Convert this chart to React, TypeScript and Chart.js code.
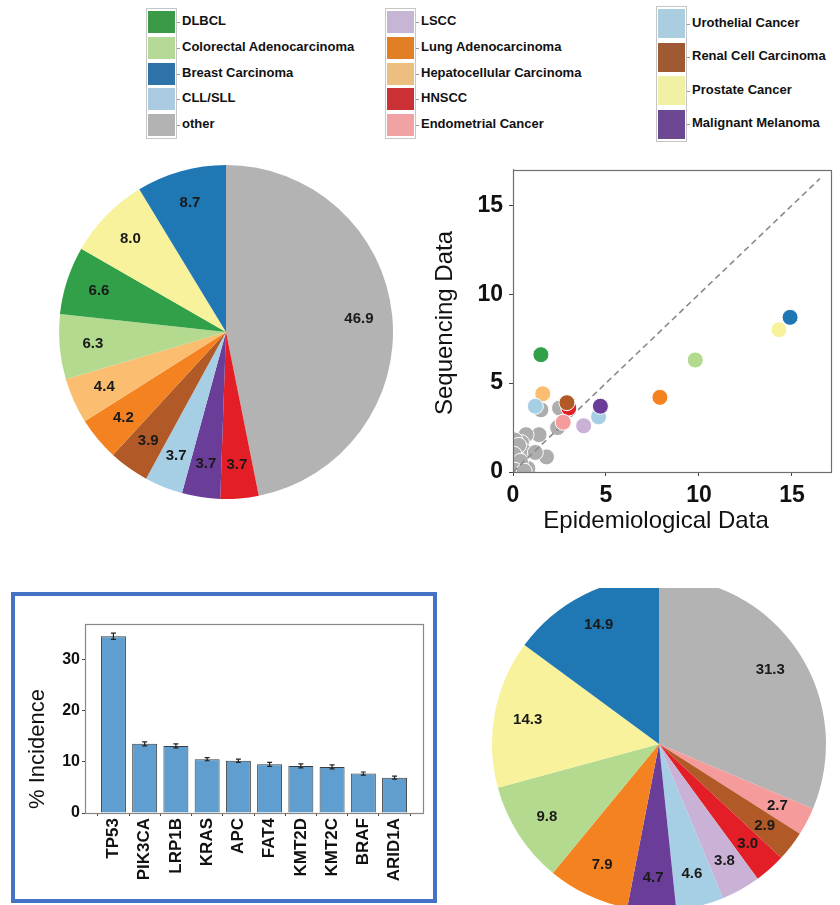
import React, { useEffect, useRef } from 'react';
import { Chart, registerables } from 'chart.js';
Chart.register(...registerables);

const FONT = '"Liberation Sans", Arial, Helvetica, sans-serif';

// ---------- colours per cancer type ----------
const typeColors: Record<string, string> = {
  'DLBCL': '#31a048',
  'Colorectal Adenocarcinoma': '#b3da8f',
  'Breast Carcinoma': '#1f77b4',
  'CLL/SLL': '#a6cfe5',
  'other': '#b3b3b3',
  'LSCC': '#c9b2d6',
  'Lung Adenocarcinoma': '#f58220',
  'Hepatocellular Carcinoma': '#fbbe70',
  'HNSCC': '#e31e26',
  'Endometrial Cancer': '#f59b9b',
  'Urothelial Cancer': '#a6cfe5',
  'Renal Cell Carcinoma': '#b15a28',
  'Prostate Cancer': '#f7f29b',
  'Malignant Melanoma': '#6a3d99',
};
const legendColors: Record<string, string> = {
  'DLBCL': '#3b9a48',
  'Colorectal Adenocarcinoma': '#b5d996',
  'Breast Carcinoma': '#2d73a7',
  'CLL/SLL': '#abcbe0',
  'other': '#b3b3b3',
  'LSCC': '#c7b5d5',
  'Lung Adenocarcinoma': '#e07f24',
  'Hepatocellular Carcinoma': '#ecbe80',
  'HNSCC': '#cb3035',
  'Endometrial Cancer': '#f0a3a2',
  'Urothelial Cancer': '#aacde0',
  'Renal Cell Carcinoma': '#a05a33',
  'Prostate Cancer': '#f2f0a4',
  'Malignant Melanoma': '#6c4893',
};

// ---------- legend ----------
const legendCol1 = ['DLBCL', 'Colorectal Adenocarcinoma', 'Breast Carcinoma', 'CLL/SLL', 'other'];
const legendCol2 = ['LSCC', 'Lung Adenocarcinoma', 'Hepatocellular Carcinoma', 'HNSCC', 'Endometrial Cancer'];
const legendCol3 = ['Urothelial Cancer', 'Renal Cell Carcinoma', 'Prostate Cancer', 'Malignant Melanoma'];

// ---------- pie 1 (sequencing data) ----------
const pie1Labels = ['other', 'HNSCC', 'Malignant Melanoma', 'CLL/SLL', 'Renal Cell Carcinoma', 'Lung Adenocarcinoma',
  'Hepatocellular Carcinoma', 'Colorectal Adenocarcinoma', 'DLBCL', 'Prostate Cancer', 'Breast Carcinoma'];
const pie1Values = [46.9, 3.7, 3.7, 3.7, 3.9, 4.2, 4.4, 6.3, 6.6, 8.0, 8.7];

// ---------- pie 2 (epidemiological data) ----------
const pie2Labels = ['other', 'Endometrial Cancer', 'Renal Cell Carcinoma', 'HNSCC', 'LSCC', 'Urothelial Cancer',
  'Malignant Melanoma', 'Lung Adenocarcinoma', 'Colorectal Adenocarcinoma', 'Prostate Cancer', 'Breast Carcinoma'];
const pie2Values = [31.3, 2.7, 2.9, 3.0, 3.8, 4.6, 4.7, 7.9, 9.8, 14.3, 14.9];

// ---------- scatter ----------
const scatterOtherEpi = [1.5, 2.5, 2.5, 2.4, 1.4, 0.7, 0.46, 0.28, 0.55, 1.8, 1.2, 0.2, 0.8, 0.2, 0.1, 0.3, 0.05, 0.4, 0.1, 0.6];
const scatterOtherSeq = [3.5, 3.6, 2.6, 2.5, 2.1, 2.1, 1.65, 1.37, 1.2, 0.85, 1.1, 0.83, 0.2, 0.3, 1.8, 1.5, 1.0, 0.6, 0.1, 0.05];
const scatterTypes = ['DLBCL', 'Hepatocellular Carcinoma', 'CLL/SLL', 'HNSCC', 'Renal Cell Carcinoma', 'Endometrial Cancer',
  'LSCC', 'Urothelial Cancer', 'Malignant Melanoma', 'Lung Adenocarcinoma', 'Colorectal Adenocarcinoma', 'Prostate Cancer', 'Breast Carcinoma'];
const scatterEpi = [1.5, 1.6, 1.2, 3.0, 2.9, 2.7, 3.8, 4.6, 4.7, 7.9, 9.8, 14.3, 14.9];
const scatterSeq = [6.6, 4.4, 3.7, 3.6, 3.9, 2.8, 2.6, 3.1, 3.7, 4.2, 6.3, 8.0, 8.7];
const identityLine = [0, 16.5];
const scatterTicks = [0, 5, 10, 15];

// ---------- bar chart ----------
const genes = ['TP53', 'PIK3CA', 'LRP1B', 'KRAS', 'APC', 'FAT4', 'KMT2D', 'KMT2C', 'BRAF', 'ARID1A'];
const incidence = [34.5, 13.5, 13.1, 10.5, 10.2, 9.5, 9.2, 9.0, 7.7, 6.9];
const incidenceErr = [0.6, 0.4, 0.4, 0.3, 0.3, 0.4, 0.4, 0.4, 0.3, 0.3];
const incidenceTicks = [0, 10, 20, 30];

// ---------- plugins ----------
const pieLabelPlugin = {
  id: 'pieLabels',
  afterDatasetsDraw(chart: any) {
    const { ctx } = chart;
    const meta = chart.getDatasetMeta(0);
    const data = chart.data.datasets[0].data;
    ctx.save();
    ctx.font = `bold 15px ${FONT}`;
    ctx.fillStyle = '#1a1a1a';
    ctx.textAlign = 'center';
    ctx.textBaseline = 'middle';
    meta.data.forEach((arc: any, i: number) => {
      const p = arc.getProps(['x', 'y', 'startAngle', 'endAngle', 'outerRadius'], true);
      const a = (p.startAngle + p.endAngle) / 2;
      const r = p.outerRadius * 0.8;
      ctx.fillText(Number(data[i]).toFixed(1), p.x + Math.cos(a) * r, p.y + Math.sin(a) * r);
    });
    ctx.restore();
  },
};

const boxPlugin = {
  id: 'axBox',
  afterDraw(chart: any, _args: any, opts: any) {
    const { ctx, chartArea: ca } = chart;
    ctx.save();
    ctx.strokeStyle = opts.color || '#777';
    ctx.lineWidth = opts.width || 1;
    ctx.strokeRect(Math.round(ca.left) + 0.5, Math.round(ca.top) + 0.5, Math.round(ca.right - ca.left), Math.round(ca.bottom - ca.top));
    ctx.restore();
  },
};

const freeTitlesPlugin = {
  id: 'freeTitles',
  afterDraw(chart: any, _args: any, opts: any) {
    const { ctx } = chart;
    (opts.items || []).forEach((it: any) => {
      ctx.save();
      ctx.translate(it.x, it.y);
      if (it.rot) ctx.rotate(it.rot);
      ctx.font = it.font;
      ctx.fillStyle = '#111';
      ctx.textAlign = 'center';
      ctx.textBaseline = 'middle';
      ctx.fillText(it.text, 0, 0);
      ctx.restore();
    });
  },
};

const errorBarPlugin = {
  id: 'errBars',
  afterDatasetsDraw(chart: any) {
    const { ctx } = chart;
    const meta = chart.getDatasetMeta(0);
    const ys = chart.scales.y;
    ctx.save();
    ctx.strokeStyle = '#222';
    ctx.lineWidth = 1.2;
    meta.data.forEach((bar: any, i: number) => {
      const v = incidence[i];
      const e = incidenceErr[i];
      const t = ys.getPixelForValue(v + e);
      const b = ys.getPixelForValue(v - e);
      ctx.beginPath();
      ctx.moveTo(bar.x, t); ctx.lineTo(bar.x, b);
      ctx.moveTo(bar.x - 2.5, t); ctx.lineTo(bar.x + 2.5, t);
      ctx.moveTo(bar.x - 2.5, b); ctx.lineTo(bar.x + 2.5, b);
      ctx.stroke();
    });
    ctx.restore();
  },
};

// ---------- generic canvas ----------
function ChartCanvas({ make, w, h, left, top }: any) {
  const ref = useRef<HTMLCanvasElement | null>(null);
  useEffect(() => {
    const chart = new Chart(ref.current as HTMLCanvasElement, make());
    return () => chart.destroy();
  }, []);
  return (
    <canvas ref={ref} width={w} height={h}
      style={{ position: 'absolute', left, top, width: w, height: h }} />
  );
}

function makePie(labels: string[], values: number[]) {
  return () => ({
    type: 'pie',
    data: {
      labels,
      datasets: [{
        data: values,
        backgroundColor: labels.map((l) => typeColors[l]),
        borderWidth: 0,
      }],
    },
    options: {
      responsive: false,
      animation: false,
      layout: { padding: 3 },
      plugins: { legend: { display: false }, tooltip: { enabled: false } },
    },
    plugins: [pieLabelPlugin],
  } as any);
}

const fixedTicks = (vals: number[]) => (scale: any) => {
  scale.ticks = vals.map((value) => ({ value }));
};

function makeScatter() {
  return () => ({
    type: 'scatter',
    data: {
      datasets: [
        {
          data: scatterOtherEpi.map((x, i) => ({ x, y: scatterOtherSeq[i] })),
          backgroundColor: '#adadad',
          borderColor: '#ffffff',
          borderWidth: 1,
          pointRadius: 8,
          order: 3,
          clip: 0,
        },
        {
          type: 'line',
          data: identityLine.map((v) => ({ x: v, y: v })),
          borderColor: '#8a8a8a',
          borderWidth: 1.6,
          borderDash: [6, 4],
          pointRadius: 0,
          fill: false,
          order: 2,
        },
        {
          data: scatterEpi.map((x, i) => ({ x, y: scatterSeq[i] })),
          backgroundColor: scatterTypes.map((t) => typeColors[t]),
          borderColor: '#ffffff',
          borderWidth: 1,
          pointRadius: 8,
          order: 1,
          clip: 0,
        },
      ],
    },
    options: {
      responsive: false,
      animation: false,
      layout: { padding: { top: 9, right: 5, left: 0, bottom: 0 } },
      plugins: {
        legend: { display: false },
        tooltip: { enabled: false },
        axBox: { color: '#6e6e6e', width: 1.2 },
        freeTitles: {
          items: [
            { text: 'Sequencing Data', x: 25, y: 173, rot: -Math.PI / 2, font: `24px ${FONT}` },
            { text: 'Epidemiological Data', x: 236, y: 371, rot: 0, font: `24px ${FONT}` },
          ],
        },
      },
      scales: {
        x: {
          type: 'linear', min: 0, max: 17.1,
          afterBuildTicks: fixedTicks(scatterTicks),
          afterFit: (s: any) => { s.height = 68; },
          ticks: { autoSkip: false, color: '#111', padding: 6, font: { family: FONT, size: 23, weight: 'bold' } },
          grid: { drawOnChartArea: false, drawTicks: true, tickLength: 4, color: '#444' },
          border: { display: true, color: '#6e6e6e' },
        },
        y: {
          type: 'linear', min: 0, max: 17,
          afterBuildTicks: fixedTicks(scatterTicks),
          afterFit: (s: any) => { s.width = 93; },
          ticks: { autoSkip: false, color: '#111', padding: 6, font: { family: FONT, size: 23, weight: 'bold' } },
          grid: { drawOnChartArea: false, drawTicks: true, tickLength: 4, color: '#444' },
          border: { display: true, color: '#6e6e6e' },
        },
      },
    },
    plugins: [boxPlugin, freeTitlesPlugin],
  } as any);
}

function makeBar() {
  return () => ({
    type: 'bar',
    data: {
      datasets: [{
        data: incidence.map((v, i) => ({ x: i, y: v })),
        backgroundColor: '#5f9ecf',
        borderColor: '#3c3c3c',
        borderWidth: 1,
        barPercentage: 0.8,
        categoryPercentage: 1,
      }],
    },
    options: {
      responsive: false,
      animation: false,
      layout: { padding: { top: 28, right: 10, left: 0, bottom: 0 } },
      plugins: {
        legend: { display: false },
        tooltip: { enabled: false },
        axBox: { color: '#888', width: 1.2 },
        freeTitles: {
          items: [
            { text: '% Incidence', x: 23, y: 153, rot: -Math.PI / 2, font: `22px ${FONT}` },
          ],
        },
      },
      scales: {
        x: {
          type: 'linear', min: -0.91, max: 9.91, offset: false,
          afterBuildTicks: fixedTicks(genes.map((_, i) => i)),
          afterFit: (s: any) => { s.height = 86; },
          ticks: {
            autoSkip: false, maxRotation: 90, minRotation: 90, padding: 2, color: '#111',
            font: { family: FONT, size: 17, weight: 'bold' },
            callback: (v: any) => genes[Math.round(Number(v))] ?? '',
          },
          grid: { drawOnChartArea: false, drawTicks: true, tickLength: 3, color: '#444' },
          border: { display: true, color: '#888' },
        },
        y: {
          type: 'linear', min: 0, max: 36.9,
          afterBuildTicks: fixedTicks(incidenceTicks),
          afterFit: (s: any) => { s.width = 70; },
          ticks: { autoSkip: false, color: '#111', padding: 2, font: { family: FONT, size: 16, weight: 'bold' } },
          grid: { drawOnChartArea: false, drawTicks: true, tickLength: 3, color: '#444' },
          border: { display: true, color: '#888' },
        },
      },
    },
    plugins: [errorBarPlugin, boxPlugin, freeTitlesPlugin],
  } as any);
}

// ---------- legend component ----------
function LegendColumn({ names, frameLeft, labelLeft, top, swatchH, step }: any) {
  const frameH = (names.length - 1) * step + swatchH + 6;
  return (
    <>
      <div style={{
        position: 'absolute', left: frameLeft, top: top - 3, width: 31, height: frameH,
        border: '1px solid #c6c6c6', boxSizing: 'border-box', background: '#fff',
      }} />
      {names.map((n: string, i: number) => {
        const y = top + i * step;
        return (
          <React.Fragment key={n}>
            <div style={{
              position: 'absolute', left: frameLeft + 2, top: y, width: 27, height: swatchH,
              background: legendColors[n],
            }} />
            <div style={{
              position: 'absolute', left: frameLeft + 31, top: y + swatchH / 2, width: 3, height: 1, background: '#999',
            }} />
            <div style={{
              position: 'absolute', left: labelLeft, top: y + swatchH / 2 - 9, height: 18, lineHeight: '18px',
              font: `bold 13px ${FONT}`, color: '#111', whiteSpace: 'nowrap',
            }}>{n}</div>
          </React.Fragment>
        );
      })}
    </>
  );
}

export default function App() {
  return (
    <div style={{ position: 'absolute', left: 0, top: 0, width: 840, height: 905, overflow: 'hidden', background: '#fff' }}>
      <LegendColumn names={legendCol1} frameLeft={146} labelLeft={182} top={11} swatchH={22} step={25.8} />
      <LegendColumn names={legendCol2} frameLeft={385} labelLeft={421} top={11} swatchH={22} step={25.8} />
      <LegendColumn names={legendCol3} frameLeft={656} labelLeft={692} top={9} swatchH={29} step={33.6} />

      <ChartCanvas make={makePie(pie1Labels, pie1Values)} w={340} h={340} left={56} top={162} />
      <ChartCanvas make={makeScatter()} w={420} h={390} left={420} top={150} />

      <div style={{
        position: 'absolute', left: 11, top: 592, width: 426, height: 311,
        border: '4px solid #4472c4', boxSizing: 'border-box',
      }} />
      <ChartCanvas make={makeBar()} w={418} h={303} left={15} top={596} />

      <div style={{ position: 'absolute', left: 440, top: 588, width: 400, height: 317, overflow: 'hidden' }}>
        <ChartCanvas make={makePie(pie2Labels, pie2Values)} w={340} h={340} left={49} top={-14} />
      </div>
    </div>
  );
}
